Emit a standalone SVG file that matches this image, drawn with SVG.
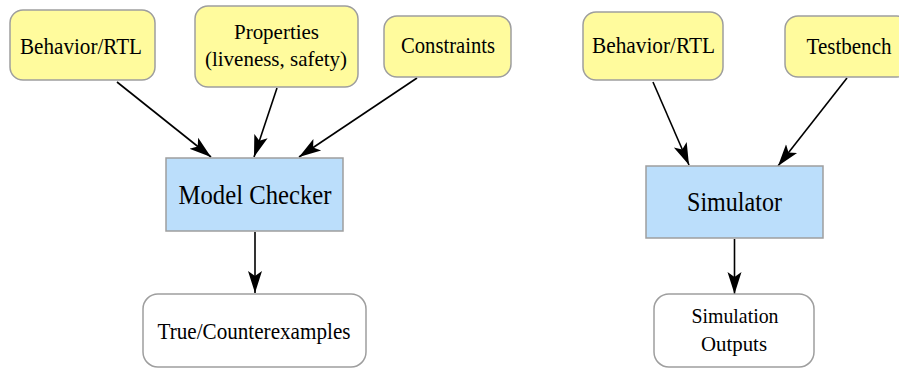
<svg xmlns="http://www.w3.org/2000/svg" width="899" height="370" viewBox="0 0 899 370">
<style>
.in{fill:#fffb9d;stroke:#9e9e9e;stroke-width:1.5}
.proc{fill:#bbdefb;stroke:#9e9e9e;stroke-width:1.5}
.out{fill:#ffffff;stroke:#9e9e9e;stroke-width:1.5}
text{font-family:"Liberation Serif","Times New Roman",serif;fill:#000;text-anchor:middle}
.edge{stroke:#000;stroke-width:1.6;fill:none;marker-end:url(#vee)}
</style>
<defs>
<marker id="vee" markerUnits="userSpaceOnUse" viewBox="0 -8 23 16" refX="22" refY="0" markerWidth="23" markerHeight="16" orient="auto">
<path d="M0,-7 L22,0 L0,7 L5,0 Z" fill="#000"/>
</marker>
</defs>
<g id="connectors">
<line class="edge" x1="117" y1="82" x2="211" y2="157"/>
<line class="edge" x1="277" y1="88" x2="254" y2="157"/>
<line class="edge" x1="417" y1="78" x2="299" y2="157"/>
<line class="edge" x1="255" y1="232" x2="255" y2="293"/>
<line class="edge" x1="653" y1="82" x2="689" y2="165"/>
<line class="edge" x1="847" y1="78" x2="778" y2="166"/>
<line class="edge" x1="734.5" y1="239" x2="734.5" y2="294"/>
</g>
<g id="behavior-left">
<rect class="in" x="10" y="10" width="145" height="70" rx="13"/>
<text x="81" y="54" font-size="24" textLength="122" lengthAdjust="spacingAndGlyphs">Behavior/RTL</text>
</g>
<g id="properties">
<rect class="in" x="195" y="6" width="163" height="81" rx="13"/>
<text x="276.5" y="39" font-size="22" textLength="85" lengthAdjust="spacingAndGlyphs">Properties</text>
<text x="276" y="66" font-size="22" textLength="142" lengthAdjust="spacingAndGlyphs">(liveness, safety)</text>
</g>
<g id="constraints">
<rect class="in" x="384" y="16" width="127" height="61" rx="13"/>
<text x="448" y="53" font-size="24" textLength="94" lengthAdjust="spacingAndGlyphs">Constraints</text>
</g>
<g id="model-checker">
<rect class="proc" x="166" y="158" width="177" height="73"/>
<text x="255" y="204" font-size="27" textLength="153" lengthAdjust="spacingAndGlyphs">Model Checker</text>
</g>
<g id="true-counterexamples">
<rect class="out" x="143" y="294" width="223" height="73" rx="15"/>
<text x="254" y="339" font-size="23" textLength="193" lengthAdjust="spacingAndGlyphs">True/Counterexamples</text>
</g>
<g id="behavior-right">
<rect class="in" x="583" y="12" width="140" height="68" rx="13"/>
<text x="653.5" y="53" font-size="24" textLength="123" lengthAdjust="spacingAndGlyphs">Behavior/RTL</text>
</g>
<g id="testbench">
<rect class="in" x="785" y="16" width="125" height="61" rx="13"/>
<text x="849" y="54" font-size="24" textLength="85" lengthAdjust="spacingAndGlyphs">Testbench</text>
</g>
<g id="simulator">
<rect class="proc" x="646" y="166" width="177" height="72"/>
<text x="734.5" y="211" font-size="27" textLength="95" lengthAdjust="spacingAndGlyphs">Simulator</text>
</g>
<g id="simulation-outputs">
<rect class="out" x="654" y="294" width="160" height="73" rx="15"/>
<text x="735" y="323" font-size="22" textLength="87" lengthAdjust="spacingAndGlyphs">Simulation</text>
<text x="734" y="351" font-size="22" textLength="66" lengthAdjust="spacingAndGlyphs">Outputs</text>
</g>
</svg>
